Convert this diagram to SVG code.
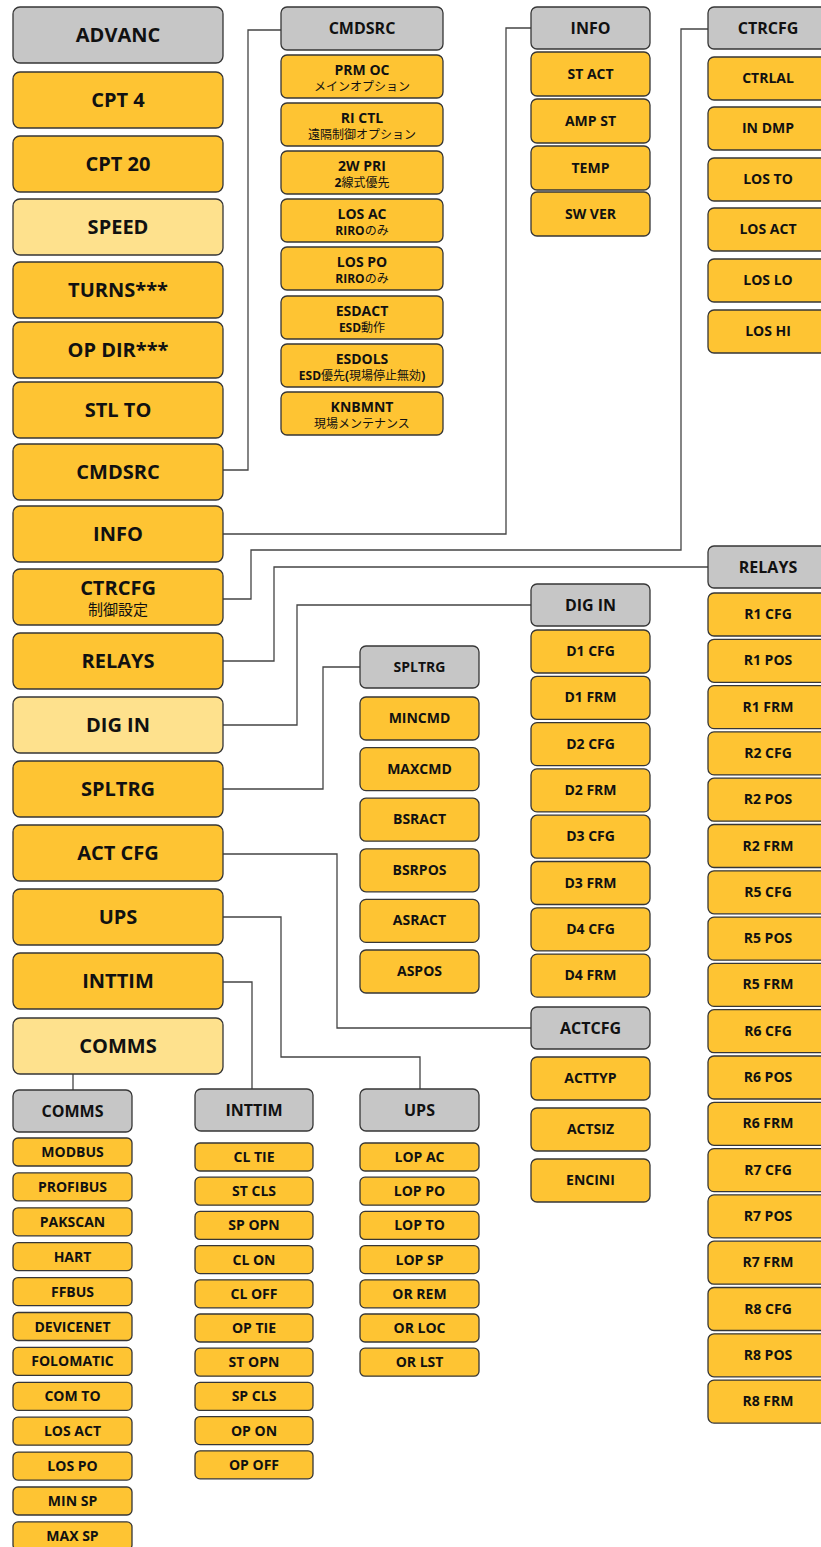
<svg xmlns="http://www.w3.org/2000/svg" width="821" height="1547" viewBox="0 0 821 1547">
<style>
.g,.o,.y{stroke:#363636;stroke-width:1.3}
.g{fill:#c6c6c6}
.o{fill:#fec433}
.y{fill:#fee18d}
text{font-family:"Open Sans","Noto Sans CJK JP",sans-serif;font-weight:bold;fill:#111;text-anchor:middle}
.L{font-size:20px}
.H{font-size:16px}
.I{font-size:14px}
.S{font-size:12px;font-weight:normal}
.S2{font-size:15px;font-weight:normal}
.b{font-weight:bold}
#conn path{fill:none;stroke:#444;stroke-width:1.3}
</style>
<g id="conn">
<path d="M223,470H248V30H281"/>
<path d="M223,534H506V28H531"/>
<path d="M223,599H251V550H681V29H708"/>
<path d="M223,661H274V567H708"/>
<path d="M223,725H297V605H531"/>
<path d="M223,789H323V667H360"/>
<path d="M223,854H337V1028H531"/>
<path d="M223,917H281V1057H420V1089"/>
<path d="M223,982H252V1089"/>
<path d="M73,1074V1090"/>
</g>
<!-- left column -->
<g id="n-advanc"><rect class="g" x="13" y="7" width="210" height="56" rx="7"/><text class="L" x="118" y="42">ADVANC</text></g>
<g id="n-cpt4"><rect class="o" x="13" y="72" width="210" height="56" rx="7"/><text class="L" x="118" y="107">CPT 4</text></g>
<g id="n-cpt20"><rect class="o" x="13" y="136" width="210" height="56" rx="7"/><text class="L" x="118" y="171">CPT 20</text></g>
<g id="n-speed"><rect class="y" x="13" y="199" width="210" height="56" rx="7"/><text class="L" x="118" y="234">SPEED</text></g>
<g id="n-turns"><rect class="o" x="13" y="262" width="210" height="56" rx="7"/><text class="L" x="118" y="297">TURNS***</text></g>
<g id="n-opdir"><rect class="o" x="13" y="322" width="210" height="56" rx="7"/><text class="L" x="118" y="357">OP DIR***</text></g>
<g id="n-stlto"><rect class="o" x="13" y="382" width="210" height="56" rx="7"/><text class="L" x="118" y="417">STL TO</text></g>
<g id="n-cmdsrc"><rect class="o" x="13" y="444" width="210" height="56" rx="7"/><text class="L" x="118" y="479">CMDSRC</text></g>
<g id="n-info"><rect class="o" x="13" y="506" width="210" height="56" rx="7"/><text class="L" x="118" y="541">INFO</text></g>
<g id="n-ctrcfg"><rect class="o" x="13" y="569" width="210" height="56" rx="7"/><text class="L" x="118" y="595">CTRCFG</text><text class="S2" x="118" y="615">制御設定</text></g>
<g id="n-relays"><rect class="o" x="13" y="633" width="210" height="56" rx="7"/><text class="L" x="118" y="668">RELAYS</text></g>
<g id="n-digin"><rect class="y" x="13" y="697" width="210" height="56" rx="7"/><text class="L" x="118" y="732">DIG IN</text></g>
<g id="n-spltrg"><rect class="o" x="13" y="761" width="210" height="56" rx="7"/><text class="L" x="118" y="796">SPLTRG</text></g>
<g id="n-actcfg"><rect class="o" x="13" y="825" width="210" height="56" rx="7"/><text class="L" x="118" y="860">ACT CFG</text></g>
<g id="n-ups"><rect class="o" x="13" y="889" width="210" height="56" rx="7"/><text class="L" x="118" y="924">UPS</text></g>
<g id="n-inttim"><rect class="o" x="13" y="953" width="210" height="56" rx="7"/><text class="L" x="118" y="988">INTTIM</text></g>
<g id="n-comms"><rect class="y" x="13" y="1018" width="210" height="56" rx="7"/><text class="L" x="118" y="1053">COMMS</text></g>
<!-- CMDSRC column -->
<g id="h-cmdsrc"><rect class="g" x="281" y="7" width="162" height="43" rx="6"/><text class="H" x="362" y="34">CMDSRC</text></g>
<g id="c-prmoc"><rect class="o" x="281" y="55" width="162" height="43" rx="6"/><text class="I" x="362" y="75">PRM OC</text><text class="S" x="362" y="91">メインオプション</text></g>
<g id="c-rictl"><rect class="o" x="281" y="103" width="162" height="43" rx="6"/><text class="I" x="362" y="123">RI CTL</text><text class="S" x="362" y="139">遠隔制御オプション</text></g>
<g id="c-2wpri"><rect class="o" x="281" y="151" width="162" height="43" rx="6"/><text class="I" x="362" y="171">2W PRI</text><text class="S" x="362" y="187"><tspan class="b">2</tspan>線式優先</text></g>
<g id="c-losac"><rect class="o" x="281" y="199" width="162" height="43" rx="6"/><text class="I" x="362" y="219">LOS AC</text><text class="S" x="362" y="235"><tspan class="b">RIRO</tspan>のみ</text></g>
<g id="c-lospo"><rect class="o" x="281" y="247" width="162" height="43" rx="6"/><text class="I" x="362" y="267">LOS PO</text><text class="S" x="362" y="283"><tspan class="b">RIRO</tspan>のみ</text></g>
<g id="c-esdact"><rect class="o" x="281" y="296" width="162" height="43" rx="6"/><text class="I" x="362" y="316">ESDACT</text><text class="S" x="362" y="332"><tspan class="b">ESD</tspan>動作</text></g>
<g id="c-esdols"><rect class="o" x="281" y="344" width="162" height="43" rx="6"/><text class="I" x="362" y="364">ESDOLS</text><text class="S" x="362" y="380"><tspan class="b">ESD</tspan>優先<tspan class="b">(</tspan>現場停止無効<tspan class="b">)</tspan></text></g>
<g id="c-knbmnt"><rect class="o" x="281" y="392" width="162" height="43" rx="6"/><text class="I" x="362" y="412">KNBMNT</text><text class="S" x="362" y="428">現場メンテナンス</text></g>
<!-- INFO column -->
<g id="h-info"><rect class="g" x="531" y="7" width="119" height="42" rx="6"/><text class="H" x="590.5" y="34">INFO</text></g>
<g id="i-stact"><rect class="o" x="531" y="52" width="119" height="44" rx="6"/><text class="I" x="590.5" y="79">ST ACT</text></g>
<g id="i-ampst"><rect class="o" x="531" y="99" width="119" height="44" rx="6"/><text class="I" x="590.5" y="126">AMP ST</text></g>
<g id="i-temp"><rect class="o" x="531" y="146" width="119" height="44" rx="6"/><text class="I" x="590.5" y="173">TEMP</text></g>
<g id="i-swver"><rect class="o" x="531" y="192" width="119" height="44" rx="6"/><text class="I" x="590.5" y="219">SW VER</text></g>
<!-- CTRCFG column -->
<g id="h-ctrcfg"><rect class="g" x="708" y="7" width="120" height="42" rx="6"/><text class="H" x="768" y="34">CTRCFG</text></g>
<g id="t-ctrlal"><rect class="o" x="708" y="57" width="120" height="43" rx="6"/><text class="I" x="768" y="83">CTRLAL</text></g>
<g id="t-indmp"><rect class="o" x="708" y="107" width="120" height="43" rx="6"/><text class="I" x="768" y="133">IN DMP</text></g>
<g id="t-losto"><rect class="o" x="708" y="158" width="120" height="43" rx="6"/><text class="I" x="768" y="184">LOS TO</text></g>
<g id="t-losact"><rect class="o" x="708" y="208" width="120" height="43" rx="6"/><text class="I" x="768" y="234">LOS ACT</text></g>
<g id="t-loslo"><rect class="o" x="708" y="259" width="120" height="43" rx="6"/><text class="I" x="768" y="285">LOS LO</text></g>
<g id="t-loshi"><rect class="o" x="708" y="310" width="120" height="43" rx="6"/><text class="I" x="768" y="336">LOS HI</text></g>
<!-- RELAYS column -->
<g id="h-relays"><rect class="g" x="708" y="546" width="120" height="42" rx="6"/><text class="H" x="768" y="573">RELAYS</text></g>
<g id="r-1"><rect class="o" x="708" y="593" width="120" height="43" rx="6"/><text class="I" x="768" y="619">R1 CFG</text></g>
<g id="r-2"><rect class="o" x="708" y="639.3" width="120" height="43" rx="6"/><text class="I" x="768" y="665.3">R1 POS</text></g>
<g id="r-3"><rect class="o" x="708" y="685.6" width="120" height="43" rx="6"/><text class="I" x="768" y="711.6">R1 FRM</text></g>
<g id="r-4"><rect class="o" x="708" y="731.9" width="120" height="43" rx="6"/><text class="I" x="768" y="757.9">R2 CFG</text></g>
<g id="r-5"><rect class="o" x="708" y="778.2" width="120" height="43" rx="6"/><text class="I" x="768" y="804.2">R2 POS</text></g>
<g id="r-6"><rect class="o" x="708" y="824.5" width="120" height="43" rx="6"/><text class="I" x="768" y="850.5">R2 FRM</text></g>
<g id="r-7"><rect class="o" x="708" y="870.8" width="120" height="43" rx="6"/><text class="I" x="768" y="896.8">R5 CFG</text></g>
<g id="r-8"><rect class="o" x="708" y="917.1" width="120" height="43" rx="6"/><text class="I" x="768" y="943.1">R5 POS</text></g>
<g id="r-9"><rect class="o" x="708" y="963.4" width="120" height="43" rx="6"/><text class="I" x="768" y="989.4">R5 FRM</text></g>
<g id="r-10"><rect class="o" x="708" y="1009.7" width="120" height="43" rx="6"/><text class="I" x="768" y="1035.7">R6 CFG</text></g>
<g id="r-11"><rect class="o" x="708" y="1056" width="120" height="43" rx="6"/><text class="I" x="768" y="1082">R6 POS</text></g>
<g id="r-12"><rect class="o" x="708" y="1102.3" width="120" height="43" rx="6"/><text class="I" x="768" y="1128.3">R6 FRM</text></g>
<g id="r-13"><rect class="o" x="708" y="1148.6" width="120" height="43" rx="6"/><text class="I" x="768" y="1174.6">R7 CFG</text></g>
<g id="r-14"><rect class="o" x="708" y="1194.9" width="120" height="43" rx="6"/><text class="I" x="768" y="1220.9">R7 POS</text></g>
<g id="r-15"><rect class="o" x="708" y="1241.2" width="120" height="43" rx="6"/><text class="I" x="768" y="1267.2">R7 FRM</text></g>
<g id="r-16"><rect class="o" x="708" y="1287.5" width="120" height="43" rx="6"/><text class="I" x="768" y="1313.5">R8 CFG</text></g>
<g id="r-17"><rect class="o" x="708" y="1333.8" width="120" height="43" rx="6"/><text class="I" x="768" y="1359.8">R8 POS</text></g>
<g id="r-18"><rect class="o" x="708" y="1380.1" width="120" height="43" rx="6"/><text class="I" x="768" y="1406.1">R8 FRM</text></g>
<!-- DIG IN column -->
<g id="h-digin"><rect class="g" x="531" y="584" width="119" height="42" rx="6"/><text class="H" x="590.5" y="611">DIG IN</text></g>
<g id="d-1"><rect class="o" x="531" y="630" width="119" height="43" rx="6"/><text class="I" x="590.5" y="656">D1 CFG</text></g>
<g id="d-2"><rect class="o" x="531" y="676.3" width="119" height="43" rx="6"/><text class="I" x="590.5" y="702.3">D1 FRM</text></g>
<g id="d-3"><rect class="o" x="531" y="722.6" width="119" height="43" rx="6"/><text class="I" x="590.5" y="748.6">D2 CFG</text></g>
<g id="d-4"><rect class="o" x="531" y="768.9" width="119" height="43" rx="6"/><text class="I" x="590.5" y="794.9">D2 FRM</text></g>
<g id="d-5"><rect class="o" x="531" y="815.2" width="119" height="43" rx="6"/><text class="I" x="590.5" y="841.2">D3 CFG</text></g>
<g id="d-6"><rect class="o" x="531" y="861.5" width="119" height="43" rx="6"/><text class="I" x="590.5" y="887.5">D3 FRM</text></g>
<g id="d-7"><rect class="o" x="531" y="907.8" width="119" height="43" rx="6"/><text class="I" x="590.5" y="933.8">D4 CFG</text></g>
<g id="d-8"><rect class="o" x="531" y="954.1" width="119" height="43" rx="6"/><text class="I" x="590.5" y="980.1">D4 FRM</text></g>
<!-- SPLTRG column -->
<g id="h-spltrg"><rect class="g" x="360" y="646" width="119" height="42" rx="6"/><text class="I" x="419.5" y="672">SPLTRG</text></g>
<g id="s-1"><rect class="o" x="360" y="697" width="119" height="43" rx="6"/><text class="I" x="419.5" y="723">MINCMD</text></g>
<g id="s-2"><rect class="o" x="360" y="747.6" width="119" height="43" rx="6"/><text class="I" x="419.5" y="773.6">MAXCMD</text></g>
<g id="s-3"><rect class="o" x="360" y="798.2" width="119" height="43" rx="6"/><text class="I" x="419.5" y="824.2">BSRACT</text></g>
<g id="s-4"><rect class="o" x="360" y="848.8" width="119" height="43" rx="6"/><text class="I" x="419.5" y="874.8">BSRPOS</text></g>
<g id="s-5"><rect class="o" x="360" y="899.4" width="119" height="43" rx="6"/><text class="I" x="419.5" y="925.4">ASRACT</text></g>
<g id="s-6"><rect class="o" x="360" y="950" width="119" height="43" rx="6"/><text class="I" x="419.5" y="976">ASPOS</text></g>
<!-- ACTCFG column -->
<g id="h-actcfg"><rect class="g" x="531" y="1007" width="119" height="42" rx="6"/><text class="H" x="590.5" y="1034">ACTCFG</text></g>
<g id="a-1"><rect class="o" x="531" y="1057" width="119" height="43" rx="6"/><text class="I" x="590.5" y="1083">ACTTYP</text></g>
<g id="a-2"><rect class="o" x="531" y="1108" width="119" height="43" rx="6"/><text class="I" x="590.5" y="1134">ACTSIZ</text></g>
<g id="a-3"><rect class="o" x="531" y="1159" width="119" height="43" rx="6"/><text class="I" x="590.5" y="1185">ENCINI</text></g>
<!-- COMMS column -->
<g id="h-comms"><rect class="g" x="13" y="1090" width="119" height="42" rx="6"/><text class="H" x="72.5" y="1117">COMMS</text></g>
<g id="m-1"><rect class="o" x="13" y="1138" width="119" height="28" rx="5"/><text class="I" x="72.5" y="1157">MODBUS</text></g>
<g id="m-2"><rect class="o" x="13" y="1172.9" width="119" height="28" rx="5"/><text class="I" x="72.5" y="1191.9">PROFIBUS</text></g>
<g id="m-3"><rect class="o" x="13" y="1207.8" width="119" height="28" rx="5"/><text class="I" x="72.5" y="1226.8">PAKSCAN</text></g>
<g id="m-4"><rect class="o" x="13" y="1242.7" width="119" height="28" rx="5"/><text class="I" x="72.5" y="1261.7">HART</text></g>
<g id="m-5"><rect class="o" x="13" y="1277.6" width="119" height="28" rx="5"/><text class="I" x="72.5" y="1296.6">FFBUS</text></g>
<g id="m-6"><rect class="o" x="13" y="1312.5" width="119" height="28" rx="5"/><text class="I" x="72.5" y="1331.5">DEVICENET</text></g>
<g id="m-7"><rect class="o" x="13" y="1347.4" width="119" height="28" rx="5"/><text class="I" x="72.5" y="1366.4">FOLOMATIC</text></g>
<g id="m-8"><rect class="o" x="13" y="1382.3" width="119" height="28" rx="5"/><text class="I" x="72.5" y="1401.3">COM TO</text></g>
<g id="m-9"><rect class="o" x="13" y="1417.2" width="119" height="28" rx="5"/><text class="I" x="72.5" y="1436.2">LOS ACT</text></g>
<g id="m-10"><rect class="o" x="13" y="1452.1" width="119" height="28" rx="5"/><text class="I" x="72.5" y="1471.1">LOS PO</text></g>
<g id="m-11"><rect class="o" x="13" y="1487" width="119" height="28" rx="5"/><text class="I" x="72.5" y="1506">MIN SP</text></g>
<g id="m-12"><rect class="o" x="13" y="1521.9" width="119" height="28" rx="5"/><text class="I" x="72.5" y="1540.9">MAX SP</text></g>
<!-- INTTIM column -->
<g id="h-inttim"><rect class="g" x="195" y="1089" width="118" height="42" rx="6"/><text class="H" x="254" y="1116">INTTIM</text></g>
<g id="t-1"><rect class="o" x="195" y="1143" width="118" height="28" rx="5"/><text class="I" x="254" y="1162">CL TIE</text></g>
<g id="t-2"><rect class="o" x="195" y="1177.2" width="118" height="28" rx="5"/><text class="I" x="254" y="1196.2">ST CLS</text></g>
<g id="t-3"><rect class="o" x="195" y="1211.4" width="118" height="28" rx="5"/><text class="I" x="254" y="1230.4">SP OPN</text></g>
<g id="t-4"><rect class="o" x="195" y="1245.6" width="118" height="28" rx="5"/><text class="I" x="254" y="1264.6">CL ON</text></g>
<g id="t-5"><rect class="o" x="195" y="1279.8" width="118" height="28" rx="5"/><text class="I" x="254" y="1298.8">CL OFF</text></g>
<g id="t-6"><rect class="o" x="195" y="1314" width="118" height="28" rx="5"/><text class="I" x="254" y="1333">OP TIE</text></g>
<g id="t-7"><rect class="o" x="195" y="1348.2" width="118" height="28" rx="5"/><text class="I" x="254" y="1367.2">ST OPN</text></g>
<g id="t-8"><rect class="o" x="195" y="1382.4" width="118" height="28" rx="5"/><text class="I" x="254" y="1401.4">SP CLS</text></g>
<g id="t-9"><rect class="o" x="195" y="1416.6" width="118" height="28" rx="5"/><text class="I" x="254" y="1435.6">OP ON</text></g>
<g id="t-10"><rect class="o" x="195" y="1450.8" width="118" height="28" rx="5"/><text class="I" x="254" y="1469.8">OP OFF</text></g>
<!-- UPS column -->
<g id="h-ups"><rect class="g" x="360" y="1089" width="119" height="42" rx="6"/><text class="H" x="419.5" y="1116">UPS</text></g>
<g id="u-1"><rect class="o" x="360" y="1143" width="119" height="28" rx="5"/><text class="I" x="419.5" y="1162">LOP AC</text></g>
<g id="u-2"><rect class="o" x="360" y="1177.2" width="119" height="28" rx="5"/><text class="I" x="419.5" y="1196.2">LOP PO</text></g>
<g id="u-3"><rect class="o" x="360" y="1211.4" width="119" height="28" rx="5"/><text class="I" x="419.5" y="1230.4">LOP TO</text></g>
<g id="u-4"><rect class="o" x="360" y="1245.6" width="119" height="28" rx="5"/><text class="I" x="419.5" y="1264.6">LOP SP</text></g>
<g id="u-5"><rect class="o" x="360" y="1279.8" width="119" height="28" rx="5"/><text class="I" x="419.5" y="1298.8">OR REM</text></g>
<g id="u-6"><rect class="o" x="360" y="1314" width="119" height="28" rx="5"/><text class="I" x="419.5" y="1333">OR LOC</text></g>
<g id="u-7"><rect class="o" x="360" y="1348.2" width="119" height="28" rx="5"/><text class="I" x="419.5" y="1367.2">OR LST</text></g>
</svg>
